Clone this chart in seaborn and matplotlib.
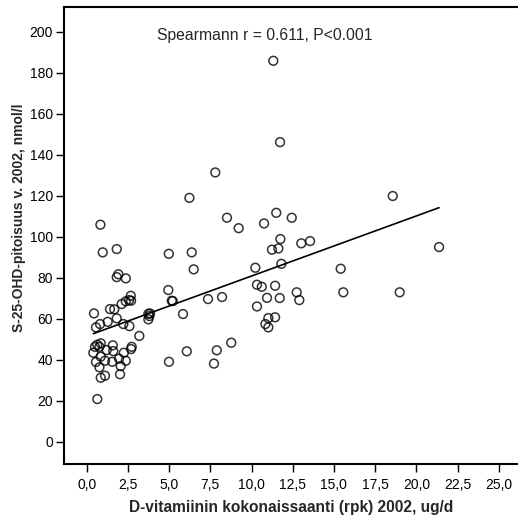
import matplotlib
matplotlib.use("Agg")
import matplotlib.pyplot as plt
import seaborn as sns
import pandas as pd

intake = [0.64, 0.85, 1.11, 2.02, 0.77, 2.06, 0.56, 1.11, 1.55, 1.96,
          2.37, 0.85, 0.40, 1.21, 1.61, 2.25, 0.50, 0.77, 0.64, 0.85,
          1.58, 2.73, 2.69, 3.19, 0.56, 0.81, 1.27, 2.22, 2.59, 1.82,
          0.44, 1.41, 1.67, 2.12, 2.37, 2.57, 2.69, 2.67, 1.82, 1.92,
          2.37, 0.97, 1.82, 0.83, 3.74, 3.84, 3.80, 3.74, 4.99, 5.84,
          6.07, 4.95, 5.16, 5.22, 4.98, 6.37, 6.49, 6.23, 7.36, 8.21,
          7.72, 7.89, 8.77, 7.80, 8.51, 9.22, 10.23, 10.33, 10.62, 10.33,
          10.94, 10.76, 11.02, 11.43, 10.84, 11.02, 11.24, 11.63, 11.75, 11.50,
          11.43, 11.71, 11.81, 11.32, 11.73, 12.44, 12.74, 12.90, 13.02, 13.55,
          15.41, 15.57, 18.57, 18.99, 21.38]
s25ohd = [20.8, 31.2, 32.2, 32.9, 36.3, 36.9, 38.9, 39.5, 39.0, 40.5,
          39.5, 41.5, 43.4, 44.7, 44.2, 43.4, 46.3, 46.3, 47.3, 48.0,
          47.0, 46.3, 45.2, 51.6, 55.8, 57.4, 58.5, 57.4, 56.4, 60.2,
          62.6, 64.7, 64.6, 67.2, 68.5, 69.1, 68.8, 71.2, 80.3, 81.7,
          79.7, 92.4, 94.0, 105.9, 62.4, 62.6, 61.3, 59.7, 39.0, 62.3,
          44.1, 74.0, 68.8, 68.6, 91.7, 92.4, 84.1, 119.0, 69.6, 70.6,
          38.1, 44.6, 48.3, 131.4, 109.3, 104.2, 84.9, 76.6, 75.6, 66.0,
          70.2, 106.5, 60.3, 60.7, 57.4, 55.8, 93.7, 94.3, 98.9, 111.7,
          76.1, 70.1, 86.8, 185.9, 146.2, 109.3, 72.9, 69.1, 96.8, 97.9,
          84.4, 72.9, 119.9, 72.9, 95.0]

xticks = [0, 2.5, 5, 7.5, 10, 12.5, 15, 17.5, 20, 22.5, 25]
xtick_labels = ["0,0", "2,5", "5,0", "7,5", "10,0", "12,5", "15,0", "17,5", "20,0", "22,5", "25,0"]
yticks = [0, 20, 40, 60, 80, 100, 120, 140, 160, 180, 200]
annotation = "Spearmann r = 0.611, P<0.001"
xlabel = "D-vitamiinin kokonaissaanti (rpk) 2002, ug/d"
ylabel = "S-25-OHD-pitoisuus v. 2002, nmol/l"

df = pd.DataFrame({"x": intake, "y": s25ohd})

sns.set_style("white")
plt.rcParams["font.family"] = ["Liberation Sans", "DejaVu Sans"]

fig = plt.figure(figsize=(5.18, 5.2), dpi=100)
ax = fig.add_axes([64 / 518, 56 / 520, 1 - 64 / 518, (464 - 6.5) / 520])

sns.regplot(data=df, x="x", y="y", ax=ax, ci=None, truncate=True,
            scatter_kws=dict(s=40, facecolors="none", edgecolors="black", linewidths=1.1),
            line_kws=dict(color="black", linewidth=1.2))

ax.set_xlim(-1.38, 26.17)
ax.set_ylim(-10.9, 212.4)
ax.set_xticks(xticks)
ax.set_xticklabels(xtick_labels)
ax.set_yticks(yticks)
ax.tick_params(axis="both", which="both", direction="out", length=6, width=1,
               color="black", labelsize=10, labelcolor="black", pad=2,
               bottom=True, left=True)
ax.tick_params(axis="x", pad=4)
for side in ["left", "bottom", "top"]:
    ax.spines[side].set_visible(True)
    ax.spines[side].set_color("black")
    ax.spines[side].set_linewidth(1.5)
ax.spines["right"].set_visible(False)

ax.set_xlabel(xlabel, fontsize=11.2, fontweight="bold", labelpad=6)
ax.set_ylabel(ylabel, fontsize=10, fontweight="bold")
ax.yaxis.set_label_coords(-0.084, 0.538)
ax.text(4.27, 198.4, annotation, fontsize=11.3, va="center", ha="left")

fig.savefig("out.png", dpi=100)
